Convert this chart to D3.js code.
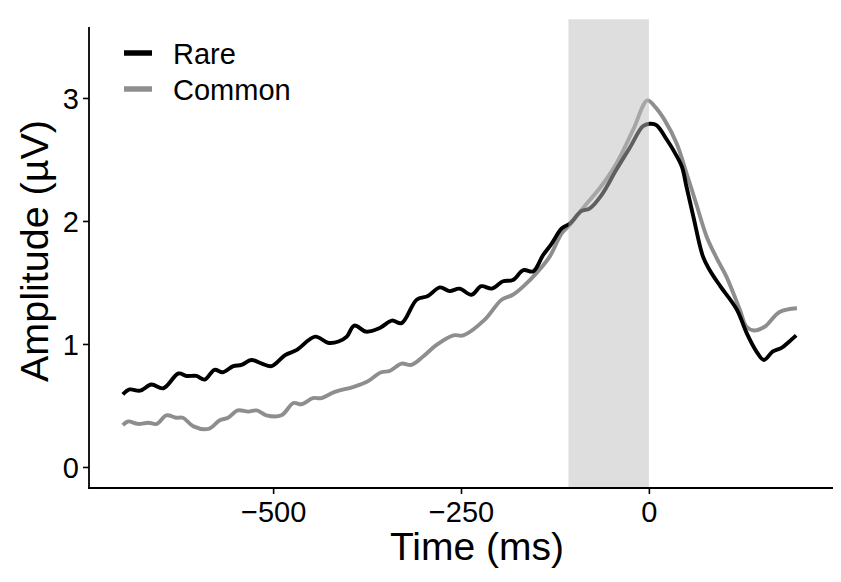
<!DOCTYPE html>
<html><head><meta charset="utf-8">
<script src="https://cdn.jsdelivr.net/npm/d3@7"></script>
<style>
body{margin:0;background:#fff}
svg{display:block}
text{font-family:"Liberation Sans",Arial,Helvetica,sans-serif;fill:#000}
</style>
</head><body>
<svg id="chart" width="841" height="582"></svg>
<script>
const seriesNames = ["Rare", "Common"];
const seriesColors = ["#000000", "#8e8e8e"];

const rareTime = [-700,-691,-677,-662,-646,-626,-615,-602,-591,-578,-567,-553,-542,-529,-515,-502,-484,-469,-444,-427,-413,-402,-392,-376,-358,-342,-329,-309,-294,-278,-265,-252,-236,-223,-209,-194,-181,-167,-154,-141,-130,-116,-105,-90,-79,-63,-43,-25,-8,1,10,24,35,44,50,59,72,81,95,117,130,143,153,165,177,185,196];
const rareAmp = [0.59,0.63,0.62,0.67,0.64,0.76,0.74,0.74,0.71,0.79,0.77,0.82,0.83,0.87,0.84,0.82,0.91,0.95,1.06,1.01,1.02,1.06,1.15,1.10,1.13,1.19,1.17,1.36,1.39,1.46,1.43,1.45,1.40,1.47,1.45,1.51,1.52,1.60,1.59,1.72,1.81,1.94,1.98,2.08,2.10,2.21,2.42,2.60,2.77,2.79,2.78,2.66,2.55,2.44,2.28,2.04,1.71,1.60,1.47,1.28,1.09,0.94,0.87,0.94,0.97,1.01,1.07];

const commonTime = [-700,-693,-680,-666,-655,-642,-629,-620,-606,-586,-571,-560,-547,-533,-522,-509,-489,-473,-462,-447,-436,-418,-394,-376,-356,-345,-329,-316,-300,-283,-260,-247,-218,-196,-181,-165,-149,-132,-116,-105,-87,-65,-43,-21,-2,8,21,37,50,64,77,90,103,121,130,140,154,174,197];
const commonAmp = [0.34,0.37,0.35,0.36,0.35,0.42,0.40,0.40,0.33,0.31,0.38,0.40,0.46,0.45,0.46,0.42,0.42,0.52,0.51,0.56,0.56,0.61,0.65,0.69,0.77,0.78,0.84,0.83,0.90,0.99,1.07,1.07,1.20,1.36,1.40,1.48,1.58,1.71,1.90,1.97,2.11,2.27,2.47,2.74,2.98,2.93,2.82,2.63,2.39,2.12,1.87,1.70,1.55,1.28,1.14,1.11,1.14,1.26,1.29];

const xTicks = [-500, -250, 0];
const yTicks = [0, 1, 2, 3];
const shadeWindow = [-107, 0];
const xLabel = "Time (ms)";
const yLabel = "Amplitude (\u00B5V)";

const svg = d3.select("#chart");
const padL = 89, padR = 833, padT = 20, padB = 488, axisTop = 27;

const x = d3.scaleLinear().domain([-745, 245]).range([padL, padR]);
const y = d3.scaleLinear().domain([-0.171, 3.634]).range([padB, padT]);

const series = [
  {name: seriesNames[0], color: seriesColors[0], pts: rareTime.map((t, i) => [t, rareAmp[i]])},
  {name: seriesNames[1], color: seriesColors[1], pts: commonTime.map((t, i) => [t, commonAmp[i]])}
];

const line = d3.line().x(d => x(d[0])).y(d => y(d[1])).curve(d3.curveCatmullRom.alpha(0.5));

svg.append("g").selectAll("path").data(series.slice().reverse()).join("path")
  .attr("d", d => line(d.pts))
  .attr("fill", "none")
  .attr("stroke", d => d.color)
  .attr("stroke-width", 3.9)
  .attr("stroke-linejoin", "round")
  .attr("stroke-linecap", "butt");

svg.append("rect")
  .attr("x", x(shadeWindow[0]))
  .attr("y", padT - 0.7)
  .attr("width", x(shadeWindow[1]) - x(shadeWindow[0]))
  .attr("height", padB - padT + 0.7)
  .attr("fill", "#bebebe")
  .attr("fill-opacity", 0.5);

const fontFam = '"Liberation Sans", Arial, sans-serif';

const xAxis = d3.axisBottom(x).tickValues(xTicks).tickSize(6).tickSizeOuter(0).tickFormat(d3.format("d"));
const gx = svg.append("g").attr("transform", `translate(0,${padB})`).call(xAxis);
gx.select(".domain").remove();
gx.selectAll(".tick line").attr("stroke", "#000").attr("stroke-width", 1.6);
gx.selectAll(".tick text").attr("font-size", 29).attr("dy", null).attr("y", 34)
  .style("font-family", fontFam).attr("fill", "#000");

const yAxis = d3.axisLeft(y).tickValues(yTicks).tickSize(6).tickSizeOuter(0).tickFormat(d3.format("d"));
const gy = svg.append("g").attr("transform", `translate(${padL},0)`).call(yAxis);
gy.select(".domain").remove();
gy.selectAll(".tick line").attr("stroke", "#000").attr("stroke-width", 1.6);
gy.selectAll(".tick text").attr("font-size", 29).attr("x", -10).attr("dy", "0.36em")
  .style("font-family", fontFam).attr("fill", "#000");

svg.append("line").attr("x1", padL).attr("x2", padL).attr("y1", axisTop).attr("y2", padB + 0.8)
  .attr("stroke", "#000").attr("stroke-width", 1.8);
svg.append("line").attr("x1", padL - 0.9).attr("x2", padR).attr("y1", padB).attr("y2", padB)
  .attr("stroke", "#000").attr("stroke-width", 1.8);

svg.append("text").attr("x", 477).attr("y", 560).attr("text-anchor", "middle")
  .attr("font-size", 39).text(xLabel);
svg.append("text").attr("transform", "translate(48,251) rotate(-90)").attr("text-anchor", "middle")
  .attr("font-size", 39.5).text(yLabel);

const lg = svg.append("g");
series.forEach((s, i) => {
  const cy = 53 + i * 36;
  lg.append("line").attr("x1", 124).attr("x2", 152).attr("y1", cy).attr("y2", cy)
    .attr("stroke", s.color).attr("stroke-width", 5.5);
  lg.append("text").attr("x", 173).attr("y", cy + 10.5).attr("font-size", 29).text(s.name);
});
</script>
</body></html>
